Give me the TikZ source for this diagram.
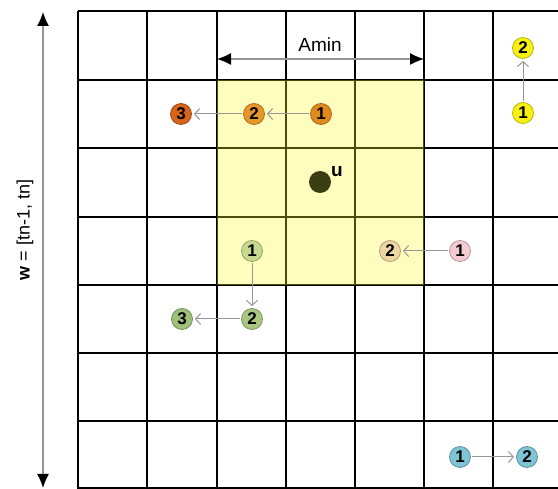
\documentclass[tikz,border=0pt]{standalone}
\usepackage{fontspec}
\setmainfont{Liberation Sans}
\usetikzlibrary{arrows.meta}
\definecolor{orA}{RGB}{224,138,30}
\definecolor{orB}{RGB}{232,150,42}
\definecolor{orC}{RGB}{214,100,26}
\definecolor{yel}{RGB}{248,240,16}
\definecolor{grA}{RGB}{197,217,143}
\definecolor{grB}{RGB}{169,199,131}
\definecolor{grC}{RGB}{157,192,122}
\definecolor{beige}{RGB}{236,214,164}
\definecolor{pinkc}{RGB}{242,204,210}
\definecolor{bluec}{RGB}{125,196,212}
\definecolor{udot}{RGB}{60,60,18}
\definecolor{conng}{RGB}{150,150,150}
\definecolor{zonefill}{RGB}{255,250,38}
\tikzset{
  num/.style={circle, minimum size=21pt, inner sep=0pt, draw=#1!75!black, line width=0.8pt,
    font=\bfseries\fontsize{17}{17}\selectfont, fill=#1},
  conn/.style={draw=conng, line width=1pt, -{Straight Barb[length=5pt,width=11pt,line width=1pt]},
    shorten >=2pt, shorten <=1pt},
  gridline/.style={line width=2.6pt, black},
  dimarrow/.style={draw=conng, line width=1.2pt, {Latex[length=14pt,width=12pt,black]}-{Latex[length=14pt,width=12pt,black]}},
}
\begin{document}
\begin{tikzpicture}[x=1pt,y=-1pt]
\useasboundingbox (0,0) rectangle (558,489);
\fill[white] (0,0) rectangle (558,489);
% grid
\foreach \x in {78,147,217,286,355,424,493}
  \draw[gridline] (\x,11) -- (\x,489);
\foreach \y in {11,80,148,217,285,353,421,488}
  \draw[gridline] (78,\y) -- (558,\y);
% yellow zone
\fill[zonefill, fill opacity=0.3] (217,80) rectangle (424,285);
% dimension arrows
\coordinate (wt) at (43,12);
\coordinate (wb) at (43,488);
\draw[dimarrow] (wt) -- (wb);
\node[rotate=90, font=\fontsize{18}{18}\selectfont] (wlab) at (25,230) {\textbf{w} = [tn-1,\ tn]};
\coordinate (al) at (217,59);
\coordinate (ar) at (424,59);
\draw[dimarrow] (al) -- (ar);
\node[font=\fontsize{19}{19}\selectfont] (amin) at (320,45) {Amin};
% u
\node[circle, fill=udot, minimum size=22pt, inner sep=0pt] (u) at (320,182) {};
\node[font=\bfseries\fontsize{19}{19}\selectfont, anchor=south west, inner sep=0pt] (ulab) at (331,177) {u};
% orange
\node[num=orA] (o1) at (321,114) {1};
\node[num=orB] (o2) at (254,114) {2};
\node[num=orC] (o3) at (181,114) {3};
\draw[conn] (o1) -- (o2);
\draw[conn] (o2) -- (o3);
% yellow
\node[num=yel] (y1) at (523,113) {1};
\node[num=yel] (y2) at (523,48) {2};
\draw[conn] (y1) -- (y2);
% green
\node[num=grA] (g1) at (252,251) {1};
\node[num=grB] (g2) at (252,319) {2};
\node[num=grC] (g3) at (182,319) {3};
\draw[conn] (g1) -- (g2);
\draw[conn] (g2) -- (g3);
% pink / beige
\node[num=pinkc] (p1) at (460,251) {1};
\node[num=beige] (p2) at (390,251) {2};
\draw[conn] (p1) -- (p2);
% blue
\node[num=bluec] (b1) at (460,457) {1};
\node[num=bluec] (b2) at (527,457) {2};
\draw[conn] (b1) -- (b2);
\end{tikzpicture}
\end{document}
